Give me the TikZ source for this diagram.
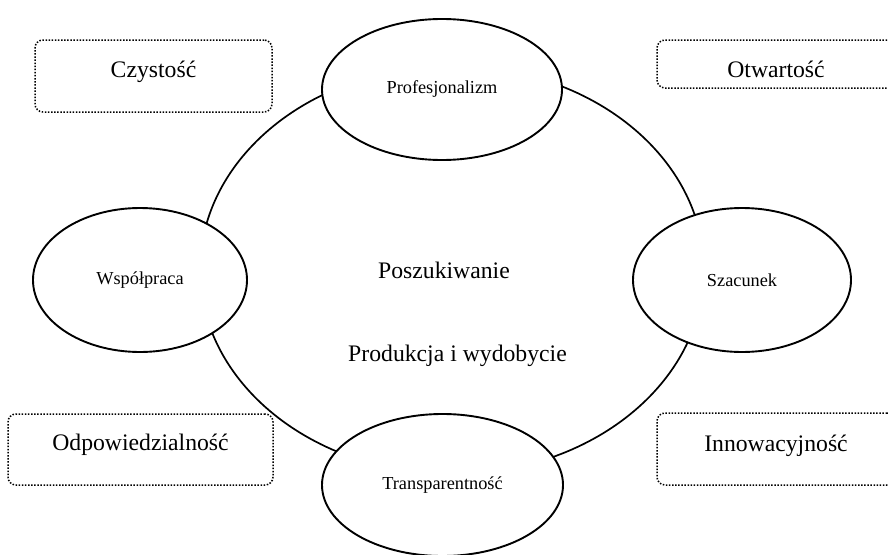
\documentclass[tikz,border=0pt]{standalone}
\usepackage{fontspec}
\setmainfont{Liberation Serif}
\usetikzlibrary{shapes.geometric}
\begin{document}
\begin{tikzpicture}[x=1pt,y=-1pt,
  ringline/.style={draw, line width=1.7pt, ellipse, inner sep=0pt},
  valnode/.style={draw, ellipse, fill=white, line width=1.9pt, inner sep=0pt,
    font=\fontsize{18.3}{20}\selectfont},
  dotbox/.style={draw, rectangle, rounded corners=8pt, line width=1.5pt,
    dash pattern=on 1.5pt off 1.6pt, inner sep=0pt},
  bigtext/.style={font=\fontsize{23.7}{28}\selectfont, anchor=base, inner sep=0pt}]
\useasboundingbox (0,0) rectangle (888,554);
% outer ring
\node[ringline, minimum width=504, minimum height=408] (ring) at (452,270) {};
% value ellipses
\node[valnode, minimum width=240, minimum height=141] (prof) at (442,89.5) {Profesjonalizm};
\node[valnode, minimum width=214, minimum height=144] (wsp) at (140,280) {Współpraca};
\node[valnode, minimum width=218, minimum height=144] (szac) at (742,280) {Szacunek};
\node[valnode, minimum width=241, minimum height=142] (trans) at (442.5,485) {Transparentność};
% centre text
\node[bigtext] (posz) at (444,278) {Poszukiwanie};
\node[bigtext] (prod) at (457.5,361) {Produkcja i wydobycie};
% dotted boxes
\node[dotbox, minimum width=237, minimum height=72] (czyst) at (153.5,76) {};
\node[bigtext] (czystT) at (153.5,77) {Czystość};
\node[dotbox, minimum width=238, minimum height=48] (otw) at (776,64) {};
\node[bigtext] (otwT) at (776,77) {Otwartość};
\node[dotbox, minimum width=265, minimum height=71] (odp) at (140.5,449.5) {};
\node[bigtext] (odpT) at (140.5,450) {Odpowiedzialność};
\node[dotbox, minimum width=238, minimum height=72] (innow) at (776,449) {};
\node[bigtext] (innowT) at (776,451) {Innowacyjność};
\end{tikzpicture}
\end{document}
